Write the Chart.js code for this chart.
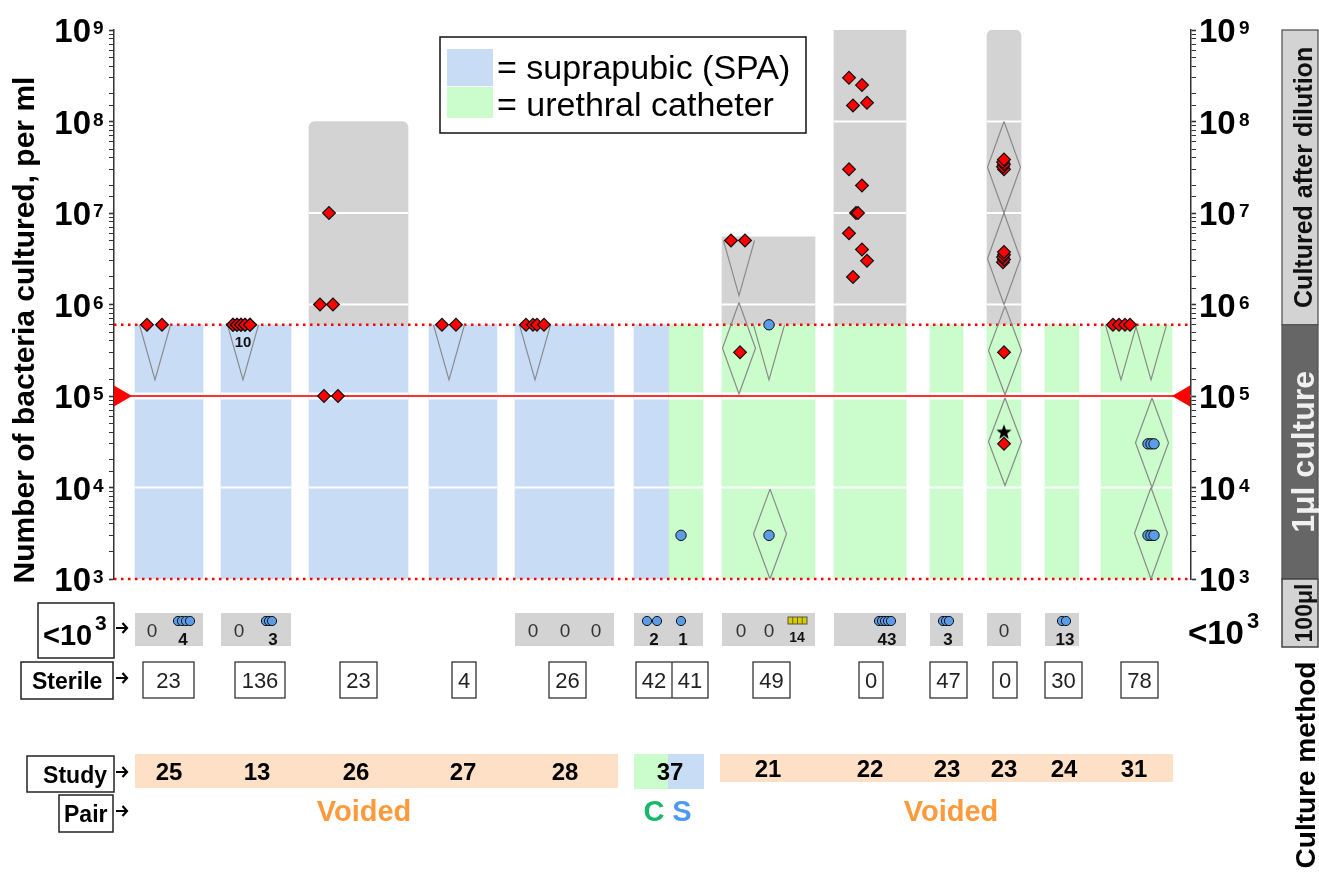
<!DOCTYPE html>
<html>
<head>
<meta charset="utf-8">
<title>Bacteria cultured per ml, by study</title>
<script src="https://cdn.jsdelivr.net/npm/chart.js@4.4.1/dist/chart.umd.min.js"></script>
<style>
  html, body { margin: 0; padding: 0; background: #ffffff; }
  canvas { display: block; }
</style>
</head>
<body>
<canvas id="chart" width="1319" height="875"></canvas>
<script>
const FONT = '"Liberation Sans", Arial, Helvetica, sans-serif';

// ---------------- data ----------------
const studies       = ['25', '13', '26', '27', '28', '37', '21', '22', '23', '23', '24', '31'];
// S = suprapubic, C = urethral catheter, SC = both halves
const sampling      = ['S', 'S', 'S', 'S', 'S', 'SC', 'C', 'C', 'C', 'C', 'C', 'C'];
// upper end of the range cultured after dilution (null = not diluted)
const dilutionTop   = [null, null, 1e8, null, null, null, 5.5e6, 1e9, null, 1e9, null, null];
const sterileCounts = [['23'], ['136'], ['23'], ['4'], ['26'], ['42', '41'], ['49'], ['0'], ['47'], ['0'], ['30'], ['78']];
const below1e3      = [['0', '4'], ['0', '3'], [], [], ['0', '0', '0'], ['2', '1'], ['0', '0', '14'], ['43'], ['3'], ['0'], ['13'], []];
const yTickPowers   = [3, 4, 5, 6, 7, 8, 9];

const upperLimit = 6e5;   // top of the 1 µl culture range
const lowerLimit = 1e3;
const threshold  = 1e5;

// samples: [horizontal position, bacteria per ml]
const redDiamonds = [
  [147, 6e5], [162, 6e5],
  [233, 6e5], [233, 6e5], [237, 6e5], [237, 6e5], [241, 6e5], [241, 6e5], [245, 6e5], [245, 6e5], [250, 6e5], [250, 6e5],
  [329, 1e7], [320, 1e6], [333, 1e6], [324, 1e5], [338, 1e5],
  [442, 6e5], [456, 6e5],
  [526, 6e5], [533, 6e5], [537, 6e5], [544, 6e5],
  [731, 5e6], [745, 5e6], [740, 3e5],
  [849, 3e8], [862, 2.5e8], [853, 1.5e8], [867, 1.6e8], [849, 3e7], [862, 2e7], [856, 1e7], [858, 1e7],
  [849, 6e6], [862, 4e6], [867, 3e6], [853, 2e6],
  [1004, 3.0e7], [1003, 3.2e7], [1004, 3.4e7], [1003, 3.6e7], [1004, 3.85e7],
  [1003, 2.9e6], [1004, 3.1e6], [1003, 3.3e6], [1004, 3.5e6], [1004, 3.75e6],
  [1004, 3e5], [1004, 3e4],
  [1113, 6e5], [1119, 6e5], [1125, 6e5], [1130, 6e5]
];
const blueCircles = [
  [681, 3e3], [769, 6e5], [769, 3e3],
  [1148, 3e4], [1151, 3e4], [1154, 3e4],
  [1148, 3e3], [1151, 3e3], [1154, 3e3]
];
const starMarks = [[1004, 4e4]];

// open intervals: [centre, upper value]; closed intervals: [centre, low, high]
const openIntervals = [[155, 6e5], [243, 6e5], [449, 6e5], [535, 6e5], [739, 5e6], [769, 6e5], [1121, 6e5], [1151, 6e5]];
const closedIntervals = [
  [739, 1.05e5, 1.05e6], [770, 1e3, 9.6e3],
  [1004, 1e7, 1e8], [1004, 1e6, 1e7], [1005, 1.03e5, 9.6e5], [1005, 1.05e4, 9.5e4],
  [1152, 1e4, 9.5e4], [1151, 1e3, 1e4]
];

// ---------------- layout ----------------
const PLOT_L = 114, PLOT_R = 1191;
const colSpan = [[135, 203], [221, 291], [309, 408], [429, 497], [515, 614], [634, 703], [722, 815], [834, 906], [930, 963], [987, 1021], [1045, 1079], [1101, 1172]];
const capRadius = [0, 0, 6, 0, 0, 0, 0, 0, 0, 6, 0, 0];
const sterileBox = [[143, 194], [235, 285], [340, 377], [452, 476], [549, 586], [636, 708], [753, 790], [859, 883], [930, 967], [993, 1017], [1045, 1082], [1121, 1158]];
const lowTextX = [[152, 183], [239, 273], [], [], [533, 565, 596], [654, 683], [741, 769, 797], [887], [948], [1004], [1065], []];
const lowIcons = {
  '0,1': [178, 182, 186, 190], '1,1': [266, 269, 272], '5,0': [647, 657], '5,1': [681],
  '7,0': [879, 882, 885, 888, 891], '8,0': [943, 946, 949], '10,0': [1062, 1066]
};
const studyX = [169, 257, 356, 463, 565, 670, 768, 870, 947, 1004, 1064, 1134];

const BLUE = '#c8dcf6', GREEN = '#cbfccb', GRAY = '#d3d3d3', PEACH = '#fde0c5';
const RED = '#ff0000', DOT_BLUE = '#5a9ce8', SHAPE = '#8a8a8a';

// ---------------- datasets ----------------
function barSet(x0, x1, range, color, radius) {
  return {
    type: 'bar', data: [{ x: (x0 + x1) / 2, y: range }],
    backgroundColor: color, barThickness: x1 - x0, stack: 'columns',
    borderRadius: radius ? { topLeft: radius, topRight: radius, bottomLeft: 0, bottomRight: 0 } : 0,
    borderSkipped: false, borderWidth: 0, order: 20
  };
}
const datasets = [];
colSpan.forEach((s, i) => {
  if (sampling[i] === 'SC') {
    const mid = (s[0] + s[1]) / 2;
    datasets.push(barSet(s[0], mid, [lowerLimit, upperLimit], BLUE));
    datasets.push(barSet(mid, s[1], [lowerLimit, upperLimit], GREEN));
  } else {
    datasets.push(barSet(s[0], s[1], [lowerLimit, upperLimit], sampling[i] === 'S' ? BLUE : GREEN));
  }
  if (dilutionTop[i]) datasets.push(barSet(s[0], s[1], [upperLimit, dilutionTop[i]], GRAY, capRadius[i]));
});

function lineSet(points, extra) {
  return Object.assign({
    type: 'scatter', showLine: true, data: points.map(p => ({ x: p[0], y: p[1] })),
    pointRadius: 0, borderColor: SHAPE, borderWidth: 1.2, fill: false, order: 6
  }, extra || {});
}
// detection limits (dotted)
[upperLimit, lowerLimit].forEach(v => datasets.push(lineSet([[PLOT_L, v], [PLOT_R, v]], {
  borderColor: RED, borderWidth: 2.5, borderDash: [2.5, 4.5], order: 7, clip: 6
})));
// uncertainty shapes
const HALF = 15.5;
openIntervals.forEach(([x, top]) => datasets.push(lineSet([[x - HALF, top], [x, top / 4], [x + HALF, top]])));
closedIntervals.forEach(([x, lo, hi]) => {
  const mid = Math.sqrt(lo * hi);
  datasets.push(lineSet([[x, hi], [x + 16.5, mid], [x, lo], [x - 16.5, mid], [x, hi]]));
});
// 10^5 threshold
datasets.push(lineSet([[PLOT_L, threshold], [PLOT_R, threshold]], { borderColor: '#ff3030', borderWidth: 2.2, order: 5 }));
datasets.push({
  type: 'scatter', data: [{ x: 120, y: threshold }, { x: 1184, y: threshold }],
  pointStyle: 'triangle', pointRotation: [90, -90], pointRadius: 12,
  backgroundColor: RED, borderWidth: 0, order: 4, clip: false
});

function starImage(r) {
  const c = document.createElement('canvas');
  const s = Math.ceil(2 * r + 2);
  c.width = s; c.height = s;
  const g = c.getContext('2d');
  g.beginPath();
  for (let i = 0; i < 10; i++) {
    const a = -Math.PI / 2 + i * Math.PI / 5;
    const rr = i % 2 ? r * 0.42 : r;
    g.lineTo(s / 2 + rr * Math.cos(a), s / 2 + rr * Math.sin(a));
  }
  g.closePath();
  g.fillStyle = '#000';
  g.fill();
  return c;
}

datasets.push({
  type: 'scatter', data: redDiamonds.map(p => ({ x: p[0], y: p[1] })),
  pointStyle: 'rectRot', pointRadius: 6.4, backgroundColor: RED, borderColor: '#111', borderWidth: 1.2, order: 2
});
datasets.push({
  type: 'scatter', data: blueCircles.map(p => ({ x: p[0], y: p[1] })),
  pointStyle: 'circle', pointRadius: 5.2, backgroundColor: DOT_BLUE, borderColor: '#111', borderWidth: 1, order: 2
});
datasets.push({
  type: 'scatter', data: starMarks.map(p => ({ x: p[0], y: p[1] })),
  pointStyle: starImage(8), order: 1
});

// ---------------- drawing helpers ----------------
function text(ctx, str, x, y, font, color, align) {
  ctx.font = font;
  ctx.fillStyle = color || '#000';
  ctx.textAlign = align || 'left';
  ctx.textBaseline = 'alphabetic';
  ctx.fillText(str, x, y);
}
function rotText(ctx, str, x, y, font, color) {
  ctx.save();
  ctx.translate(x, y);
  ctx.rotate(-Math.PI / 2);
  text(ctx, str, 0, 0, font, color, 'center');
  ctx.restore();
}
function box(ctx, x0, y0, x1, y1, fill, stroke, lw) {
  if (fill) { ctx.fillStyle = fill; ctx.fillRect(x0, y0, x1 - x0, y1 - y0); }
  if (stroke) { ctx.strokeStyle = stroke; ctx.lineWidth = lw || 1.5; ctx.strokeRect(x0, y0, x1 - x0, y1 - y0); }
}
function dot(ctx, x, y, r) {
  ctx.beginPath();
  ctx.arc(x, y, r, 0, Math.PI * 2);
  ctx.fillStyle = DOT_BLUE; ctx.fill();
  ctx.strokeStyle = '#111'; ctx.lineWidth = 1; ctx.stroke();
}
// small pointer from a row heading to its row
function pointer(ctx, x, y) {
  ctx.beginPath();
  ctx.moveTo(x, y); ctx.lineTo(x + 11, y);
  ctx.moveTo(x + 6.5, y - 5); ctx.lineTo(x + 11, y); ctx.lineTo(x + 6.5, y + 5);
  ctx.strokeStyle = '#000'; ctx.lineWidth = 2.2; ctx.lineJoin = 'miter'; ctx.lineCap = 'butt';
  ctx.stroke();
}

const decor = {
  id: 'decor',
  afterDatasetDraw(chart, args) {
    const ds = chart.data.datasets[args.index];
    if (ds.type !== 'bar') return;
    const el = args.meta.data[0];
    const p = el.getProps(['x', 'y', 'base', 'width'], true);
    const top = Math.min(p.y, p.base), bot = Math.max(p.y, p.base);
    const ys = chart.scales.y, ctx = chart.ctx;
    ctx.save();
    ctx.strokeStyle = '#ffffff';
    [1e4, 1e5, 1e6, 1e7, 1e8].forEach(v => {
      const py = ys.getPixelForValue(v);
      if (py <= top + 1 || py >= bot - 1) return;
      ctx.lineWidth = v === threshold ? 7 : 1.8;
      ctx.beginPath();
      ctx.moveTo(p.x - p.width / 2, py);
      ctx.lineTo(p.x + p.width / 2, py);
      ctx.stroke();
    });
    ctx.restore();
  },
  afterDraw(chart) {
    const ctx = chart.ctx, ys = chart.scales.y, xs = chart.scales.x;
    const X = v => xs.getPixelForValue(v);
    ctx.save();

    // axis tick labels, both sides
    yTickPowers.forEach(k => {
      const py = ys.getPixelForValue(Math.pow(10, k));
      text(ctx, '10', 91, py + 12, 'bold 33px ' + FONT, '#000', 'right');
      text(ctx, String(k), 93, py + 4, 'bold 19px ' + FONT, '#000', 'left');
      text(ctx, '10', 1199, py + 12, 'bold 33px ' + FONT, '#000', 'left');
      text(ctx, String(k), 1239, py + 4, 'bold 19px ' + FONT, '#000', 'left');
    });
    rotText(ctx, 'Number of bacteria cultured, per ml', 34, 330, 'bold 30px ' + FONT, '#000');

    // legend
    box(ctx, 440, 37, 806, 133, '#fff', '#111', 1.5);
    box(ctx, 447, 49, 493, 86, BLUE);
    box(ctx, 447, 87, 493, 118, GREEN);
    text(ctx, '= suprapubic (SPA)', 497, 79, '34px ' + FONT, '#000');
    text(ctx, '= urethral catheter', 497, 116, '34px ' + FONT, '#000');

    // count of overlapping samples
    text(ctx, '10', X(243), 347, 'bold 15px ' + FONT, '#111', 'center');

    // row headings
    box(ctx, 38, 603, 114, 658, '#fff', '#222', 1.5);
    text(ctx, '<10', 43, 645, 'bold 29px ' + FONT);
    text(ctx, '3', 95, 630, 'bold 21px ' + FONT);
    box(ctx, 21, 662, 113, 699, '#fff', '#222', 1.5);
    text(ctx, 'Sterile', 32, 689, 'bold 23px ' + FONT);
    box(ctx, 27, 756, 114, 792, '#fff', '#222', 1.5);
    text(ctx, 'Study', 107, 783, 'bold 23px ' + FONT, '#000', 'right');
    box(ctx, 59, 795, 113, 832, '#fff', '#222', 1.5);
    text(ctx, 'Pair', 64, 822, 'bold 23px ' + FONT);
    [628, 678, 772, 811].forEach(y => pointer(ctx, 116, y));

    // row: below 10^3
    below1e3.forEach((items, i) => {
      if (!items.length) return;
      const s = colSpan[i];
      box(ctx, X(s[0]), 613, X(s[1]), 646, GRAY);
      items.forEach((n, j) => {
        const x = X(lowTextX[i][j]);
        if (n === '0') { text(ctx, '0', x, 637, '19px ' + FONT, '#333', 'center'); return; }
        if (n === '14') {
          // dipstick-style marker
          const x0 = x - 9, w = 19;
          box(ctx, x0, 617, x0 + w, 624, '#d8cc00', '#555', 1);
          ctx.strokeStyle = '#6b6500'; ctx.lineWidth = 1;
          for (let q = 1; q < 4; q++) { ctx.beginPath(); ctx.moveTo(x0 + q * w / 4, 617); ctx.lineTo(x0 + q * w / 4, 624); ctx.stroke(); }
          text(ctx, n, x, 642, 'bold 14px ' + FONT, '#111', 'center');
          return;
        }
        (lowIcons[i + ',' + j] || []).forEach(ix => dot(ctx, X(ix), 621, 4.6));
        text(ctx, n, x, 645, 'bold 17px ' + FONT, '#111', 'center');
      });
    });

    // row: sterile
    sterileCounts.forEach((vals, i) => {
      const [a, b] = sterileBox[i];
      box(ctx, X(a), 662, X(b), 698, '#fff', '#333', 1.3);
      const w = (b - a) / vals.length;
      vals.forEach((v, j) => {
        if (j > 0) { ctx.beginPath(); ctx.moveTo(X(a + j * w), 662); ctx.lineTo(X(a + j * w), 698); ctx.strokeStyle = '#333'; ctx.lineWidth = 1.3; ctx.stroke(); }
        text(ctx, v, X(a + (j + 0.5) * w), 688, '22px ' + FONT, '#222', 'center');
      });
    });

    // row: study
    box(ctx, X(135), 754, X(618), 788, PEACH);
    box(ctx, X(634), 754, X(668), 789, GREEN);
    box(ctx, X(668), 754, X(704), 789, BLUE);
    box(ctx, X(720), 754, X(1173), 782, PEACH);
    studies.forEach((s, i) => text(ctx, s, X(studyX[i]), i < 6 ? 780 : 777, 'bold 24px ' + FONT, '#000', 'center'));

    // row: pair
    text(ctx, 'Voided', X(364), 821, 'bold 29px ' + FONT, '#fd9a3c', 'center');
    text(ctx, 'C', X(654), 821, 'bold 29px ' + FONT, '#17b867', 'center');
    text(ctx, 'S', X(682), 821, 'bold 29px ' + FONT, '#4d9bf0', 'center');
    text(ctx, 'Voided', X(951), 821, 'bold 29px ' + FONT, '#fd9a3c', 'center');

    // right side: below 10^3 label and culture method strip
    text(ctx, '<10', 1188, 644, 'bold 33px ' + FONT);
    text(ctx, '3', 1247, 628, 'bold 22px ' + FONT);
    const y9 = ys.getPixelForValue(1e9), yU = ys.getPixelForValue(upperLimit), y3 = ys.getPixelForValue(lowerLimit);
    box(ctx, 1282, y9, 1318, yU, GRAY, '#555', 1.3);
    box(ctx, 1282, yU, 1318, y3, '#666666', '#555', 1.3);
    box(ctx, 1282, y3, 1318, 647, GRAY, '#444', 1.5);
    rotText(ctx, 'Cultured after dilution', 1312, (y9 + yU) / 2, 'bold 25px ' + FONT, '#111');
    rotText(ctx, '1\u03bcl culture', 1314, (yU + y3) / 2, 'bold 32px ' + FONT, '#f0f0f0');
    rotText(ctx, '100\u03bcl', 1312, (y3 + 647) / 2, 'bold 23px ' + FONT, '#111');
    rotText(ctx, 'Culture method', 1315, 765, 'bold 28px ' + FONT, '#000');

    ctx.restore();
  }
};

const axisY = (pos) => ({
  type: 'logarithmic', position: pos, min: lowerLimit, max: 1e9, stacked: false, beginAtZero: false,
  ticks: { display: false, autoSkip: false },
  grid: {
    drawOnChartArea: false, drawTicks: true, tickLength: 5, color: '#333', tickColor: '#333',
    tickWidth: c => (Math.abs(Math.log10(c.tick.value) % 1) < 1e-9 ? 1.6 : 1)
  },
  border: { display: true, color: '#333', width: 1.5 },
  afterFit: s => { s.width = 5; }
});

new Chart(document.getElementById('chart'), {
  type: 'scatter',
  data: { datasets },
  options: {
    responsive: false, animation: false, events: [], devicePixelRatio: 1,
    layout: { padding: { left: 109, right: 123, top: 30, bottom: 296 }, autoPadding: false },
    plugins: { legend: { display: false }, tooltip: { enabled: false } },
    scales: {
      x: { type: 'linear', min: PLOT_L, max: PLOT_R, display: false, offset: false, grid: { offset: false } },
      y: axisY('left'),
      y2: axisY('right')
    }
  },
  plugins: [decor]
});
</script>
</body>
</html>
